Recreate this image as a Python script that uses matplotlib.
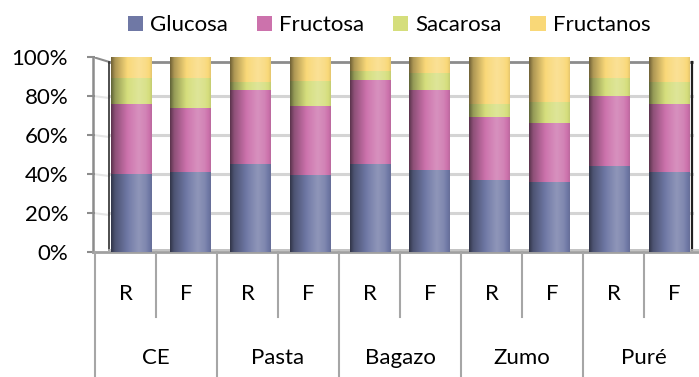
import numpy as np
import matplotlib.pyplot as plt
from matplotlib.colors import to_rgb
from matplotlib.patches import Rectangle

plt.rcParams['font.family'] = ['Lato', 'DejaVu Sans']

# composicion de azucares por muestra (porcentaje del total)
muestras = ["CE", "Pasta", "Bagazo", "Zumo", "Puré"]
estados = ["R", "F"]
series = ["Glucosa", "Fructosa", "Sacarosa", "Fructanos"]

glucosa = [40, 41, 45, 39.5, 45, 42, 37, 36, 44, 41]
fructosa = [36, 33, 38, 35.5, 43, 41, 32, 30, 36, 35]
sacarosa = [13, 15, 4, 12.5, 5, 9, 7, 11, 9, 11]
fructanos = [11, 11, 13, 12.5, 7, 8, 24, 23, 11, 13]

colores = ["#6F78A5", "#CC72AC", "#D5DE7C", "#F9D878"]

W, H = 699, 377
SLOT = 61.0            # ancho de cada categoria en pixeles
X0 = 95.0              # borde izquierdo de la tabla de categorias
Y0, Y100 = 252.0, 57.0 # posicion vertical de 0% y 100%

#==================================================================================================================

def px_x(px):
    """ pixel horizontal -> coordenada x de datos """
    return (px - X0) / SLOT

def px_y(py):
    """ pixel vertical -> fraccion de ejes """
    return (Y0 - py) / (Y0 - Y100)

#==================================================================================================================

def cylinder_strip(color, n=80):
    """
    Degradado horizontal que imita un cilindro.
    """
    base = np.array(to_rgb(color))
    t = np.linspace(0, 1, n)
    shade = np.interp(t, [0, 0.1, 0.45, 0.68, 0.85, 1.0],
                      [-0.55, -0.3, 0.05, 0.22, 0.12, -0.08])[:, None]
    rgb = np.where(shade < 0, base * (1 + shade), base + (1 - base) * shade)
    return np.clip(rgb, 0, 1)[None, :, :]

#==================================================================================================================

def main():
    fig = plt.figure(figsize=(W / 100, H / 100), dpi=100)
    ax = fig.add_axes([X0 / W, (H - Y0) / H, (W - X0) / W, (Y0 - Y100) / H])
    ax.set_xlim(0, px_x(W))
    ax.set_ylim(0, 100)

    datos = [glucosa, fructosa, sacarosa, fructanos]
    n = len(glucosa)
    xpos = 0.59 + 0.98 * np.arange(n)
    ancho = 0.67

    # paredes y lineas de division
    xb0, xb1 = px_x(109), px_x(692)
    for v in range(20, 100, 20):
        ax.plot([xb0, xb1], [v, v], color="#d4d4d4", lw=2.2, zorder=1)
        ax.plot([px_x(93), xb0], [v, v - 1], color="#e6e6e6", lw=1.5, zorder=1)
    ax.plot([xb0, xb1], [97.5, 97.5], color="#8c8c8c", lw=2, zorder=1)
    ax.plot([px_x(93), xb0], [100, 97.5], color="#8c8c8c", lw=1.5, zorder=1)
    ax.plot([px_x(93), px_x(93)], [0, 100], color="#8c8c8c", lw=1.8, zorder=2, clip_on=False)
    ax.plot([xb0, xb0], [1, 97.5], color="#303030", lw=1.2, zorder=2)
    ax.plot([xb1, xb1], [1, 97.5], color="#202020", lw=1.6, zorder=2)
    ax.plot([px_x(93), px_x(W)], [0, 0], color="#a0a0a0", lw=2, zorder=2, clip_on=False)
    ax.plot([xb0, px_x(W)], [1.2, 1.2], color="#b8b8b8", lw=1.2, zorder=2)

    # barras apiladas con aspecto de cilindro
    for i in range(n):
        base = 0
        for serie, color in zip(datos, colores):
            v = serie[i]
            ax.imshow(cylinder_strip(color), extent=(xpos[i] - ancho / 2, xpos[i] + ancho / 2, base, base + v),
                      aspect='auto', interpolation='bilinear', zorder=3)
            base += v
    ax.set_xlim(0, px_x(W))
    ax.set_ylim(0, 100)

    # eje y
    ax.set_yticks(range(0, 101, 20))
    ax.set_yticklabels([f"{v}%" for v in range(0, 101, 20)])
    ax.tick_params(axis='y', length=5.8, width=1.5, color="#8c8c8c", pad=13.5, labelsize=16)
    ax.set_xticks([])
    for s in ax.spines.values():
        s.set_visible(False)

    # tabla de categorias
    trans = ax.get_xaxis_transform()
    for k in range(len(muestras) * 2 + 1):
        fin = px_y(H) if k % 2 == 0 else px_y(317)
        ax.plot([k, k], [0, fin], color="#a6a6a6", lw=1.5, transform=trans, clip_on=False)
    for k in range(len(muestras) * 2):
        ax.text(k + 0.5, px_y(294), estados[k % 2], transform=trans, ha='center', va='center', fontsize=16)
    for j, m in enumerate(muestras):
        ax.text(2 * j + 1, px_y(358), m, transform=trans, ha='center', va='center', fontsize=16)

    # leyenda
    handles = [Rectangle((0, 0), 1, 1, facecolor=c, edgecolor='none') for c in colores]
    fig.legend(handles, series, loc='center', bbox_to_anchor=(389 / W, 1 - 25 / H), ncol=4, frameon=False,
               fontsize=16, handlelength=0.68, handleheight=0.65, handletextpad=0.32, columnspacing=1.3,
               borderaxespad=0, borderpad=0)

    fig.savefig("out.png", dpi=100)
    plt.close(fig)

#==================================================================================================================
if __name__ == "__main__":
    main()
